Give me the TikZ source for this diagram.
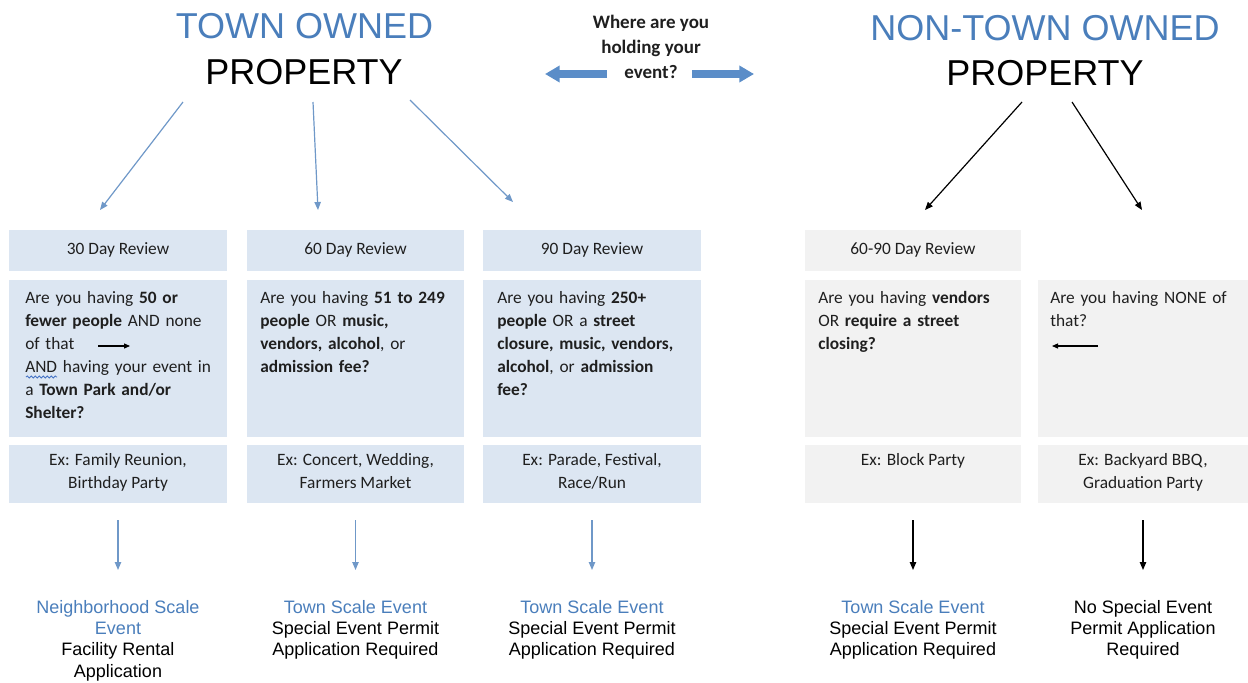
\documentclass[tikz,border=0pt]{standalone}
\usepackage{fontspec}
\setmainfont{Carlito}
\newfontfamily\arialf{Liberation Sans}
\usetikzlibrary{arrows.meta,decorations.pathmorphing}
\definecolor{tblue}{HTML}{4A7EBB}
\definecolor{lblue}{HTML}{DCE6F2}
\definecolor{lgray}{HTML}{F2F2F2}
\definecolor{ablue}{HTML}{6F98C8}
\definecolor{bblue}{HTML}{5B8DC8}
\definecolor{sblue}{HTML}{4472C4}
\definecolor{txt}{HTML}{1F1F1F}
\newcommand\fl{\rule{0pt}{12pt}}
\begin{document}
\begin{tikzpicture}[x=0.75pt,y=-0.75pt,
  box/.style 2 args={anchor=north west, inner sep=0pt, outer sep=0pt, draw=none,
    minimum width=#1*0.75pt, minimum height=#2*0.75pt},
  bluebox/.style={fill=lblue},
  graybox/.style={fill=lgray},
  headtext/.style={anchor=base, inner sep=0pt, text=txt, font=\fontsize{13}{17.25}\selectfont},
  qtext/.style={anchor=north west, inner sep=0pt, text width=205*0.75pt, align=left,
    text=txt, font=\fontsize{13}{17.25}\selectfont},
  extext/.style={anchor=north, inner sep=0pt, align=center, text=txt,
    font=\fontsize{13}{17.25}\selectfont},
  restext/.style={anchor=north, inner sep=0pt, align=center, text=black,
    font=\arialf\fontsize{13.5}{16}\selectfont},
  titletext/.style={anchor=base, inner sep=0pt, font=\arialf\fontsize{27}{32}\selectfont},
  tarrblue/.style={ablue, line width=0.9pt, -{Triangle[length=6pt,width=4.8pt]}},
  tarrblack/.style={black, line width=0.9pt, -{Triangle[length=6pt,width=4.8pt]}},
  varr/.style={shorten <=12.75pt, shorten >=20.25pt},
  blockarr/.style={bblue, line width=6pt, -{Triangle[length=11pt,width=12pt]}},
  inarr/.style={black, line width=0.8pt, -{Triangle[length=4.5pt,width=3.8pt]}}
]
\useasboundingbox (0,0) rectangle (1248,682);

% titles
\node[titletext, text=tblue] (townA) at (304.5,38) {TOWN OWNED};
\node[titletext] (townB) at (304,84) {PROPERTY};
\node[titletext, text=tblue] (nonA) at (1045,40) {NON-TOWN OWNED};
\node[titletext] (nonB) at (1045,85) {PROPERTY};

% question in middle
\node[anchor=north, inner sep=0pt, align=center, text=txt,
  font=\bfseries\fontsize{14.25}{18.75}\selectfont] (where) at (651,12)
  {\fl Where are you\\holding your\\event?};
\coordinate (wL1) at (607,74); \coordinate (wL2) at (545,74);
\coordinate (wR1) at (692,74); \coordinate (wR2) at (754,74);
\draw[blockarr] (wL1) -- (wL2);
\draw[blockarr] (wR1) -- (wR2);

% header boxes
\node[box={218}{41}, bluebox] (h1) at (9,230) {};
\node[box={217}{41}, bluebox] (h2) at (247,230) {};
\node[box={218}{41}, bluebox] (h3) at (483,230) {};
\node[box={216}{41}, graybox] (h4) at (805,230) {};
\node[headtext] at (118,254) {30 Day Review};
\node[headtext] at (355.5,254) {60 Day Review};
\node[headtext] at (592,254) {90 Day Review};
\node[headtext] at (913,254) {60-90 Day Review};

% question boxes
\node[box={218}{157}, bluebox] (q1) at (9,280) {};
\node[box={217}{157}, bluebox] (q2) at (247,280) {};
\node[box={218}{157}, bluebox] (q3) at (483,280) {};
\node[box={216}{157}, graybox] (q4) at (805,280) {};
\node[box={210}{157}, graybox] (q5) at (1038,280) {};

\node[qtext] (qt1) at (25,287) {\fl Are you having \textbf{50 or}\\\textbf{fewer people} AND none\\of that\\AND having your event in\\a \textbf{Town Park and/or}\\\textbf{Shelter?}};
\node[qtext] (qt2) at (260,287) {\fl Are you having \textbf{51 to 249}\\\textbf{people} OR \textbf{music,}\\\textbf{vendors, alcohol}, or\\\textbf{admission fee?}};
\node[qtext] (qt3) at (497,287) {\fl Are you having \textbf{250+}\\\textbf{people} OR a \textbf{street}\\\textbf{closure, music, vendors,}\\\textbf{alcohol}, or \textbf{admission}\\\textbf{fee?}};
\node[qtext] (qt4) at (818,287) {\fl Are you having \textbf{vendors}\\OR \textbf{require a street}\\\textbf{closing?}};
\node[qtext] (qt5) at (1050,287) {\fl Are you having NONE of\\that?};

% inner arrows and spell-check squiggle
\coordinate (ia1) at (98,346); \coordinate (ia2) at (130,346);
\draw[inarr] (ia1) -- (ia2);
\coordinate (ib1) at (1098,346); \coordinate (ib2) at (1052,346);
\draw[inarr] (ib1) -- (ib2);
\coordinate (sq1) at (26,377); \coordinate (sq2) at (57,377);
\draw[sblue, line width=0.6pt, decorate, decoration={snake, amplitude=0.8pt, segment length=3pt}] (sq1) -- (sq2);

% example boxes
\node[box={218}{58}, bluebox] (e1) at (9,445) {};
\node[box={217}{58}, bluebox] (e2) at (247,445) {};
\node[box={218}{58}, bluebox] (e3) at (483,445) {};
\node[box={216}{58}, graybox] (e4) at (805,445) {};
\node[box={210}{58}, graybox] (e5) at (1038,445) {};
\node[extext] at (118,449) {\fl Ex: Family Reunion,\\Birthday Party};
\node[extext] at (355.5,449) {\fl Ex: Concert, Wedding,\\Farmers Market};
\node[extext] at (592,449) {\fl Ex: Parade, Festival,\\Race/Run};
\node[extext] at (913,449) {\fl Ex: Block Party};
\node[extext] at (1143,449) {\fl Ex: Backyard BBQ,\\Graduation Party};

% results
\node[restext] (r1) at (118,597) {\fl\textcolor{tblue}{Neighborhood Scale}\\\textcolor{tblue}{Event}\\Facility Rental\\Application};
\node[restext] (r2) at (355.5,597) {\fl\textcolor{tblue}{Town Scale Event}\\Special Event Permit\\Application Required};
\node[restext] (r3) at (592,597) {\fl\textcolor{tblue}{Town Scale Event}\\Special Event Permit\\Application Required};
\node[restext] (r4) at (913,597) {\fl\textcolor{tblue}{Town Scale Event}\\Special Event Permit\\Application Required};
\node[restext] (r5) at (1143,597) {\fl No Special Event\\Permit Application\\Required};

% vertical arrows
\draw[tarrblue, varr] (e1.south) -- (r1.north);
\draw[tarrblue, varr] (e2.south) -- (r2.north);
\draw[tarrblue, varr] (e3.south) -- (r3.north);
\draw[tarrblack, varr] (e4.south) -- (r4.north);
\draw[tarrblack, varr] (e5.south) -- (r5.north);

% diagonal arrows from titles
\coordinate (ta1) at (183,102); \coordinate (tb1) at (100,210);
\coordinate (ta2) at (313,102); \coordinate (tb2) at (318,210);
\coordinate (ta3) at (410,100); \coordinate (tb3) at (513,202);
\draw[tarrblue] (ta1) -- (tb1);
\draw[tarrblue] (ta2) -- (tb2);
\draw[tarrblue] (ta3) -- (tb3);
\coordinate (na1) at (1022,102); \coordinate (nb1) at (925,210);
\coordinate (na2) at (1072,102); \coordinate (nb2) at (1142,210);
\draw[tarrblack] (na1) -- (nb1);
\draw[tarrblack] (na2) -- (nb2);
\end{tikzpicture}
\end{document}
